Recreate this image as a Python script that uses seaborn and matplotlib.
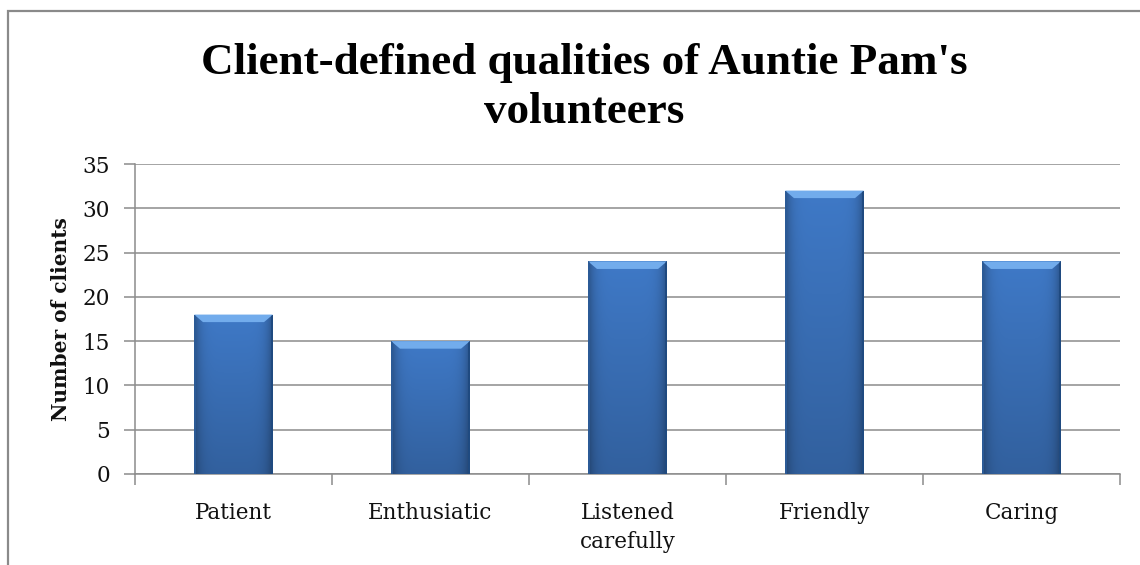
import numpy as np
import pandas as pd
import matplotlib
matplotlib.use("Agg")
import matplotlib.pyplot as plt
from matplotlib.patches import Rectangle, Polygon
import seaborn as sns

categories = ["Patient", "Enthusiatic", "Listened\ncarefully", "Friendly", "Caring"]
clients = [18, 15, 24, 32, 24]
y_ticks = [0, 5, 10, 15, 20, 25, 30, 35]

title = "Client-defined qualities of Auntie Pam's\nvolunteers"
y_label = "Number of clients"

sns.set_theme(style="white")
plt.rcParams["font.family"] = ["DejaVu Serif"]

GRID = "#8c8c8c"
BAR = "#3a70b8"
TEXT = "#111111"

fig = plt.figure(figsize=(11.4, 5.65), dpi=100)
ax = fig.add_axes([135 / 1140, 1 - 474 / 565, (1120 - 135) / 1140, (474 - 164) / 565])

df = pd.DataFrame({"quality": categories, "clients": clients})
sns.barplot(data=df, x="quality", y="clients", ax=ax, color=BAR,
            width=0.4, saturation=1, edgecolor="none", zorder=3)

ax.set_ylim(0, 35)
ax.set_xlim(-0.5, len(categories) - 0.5)
ax.set_yticks(y_ticks)
ax.set_yticklabels([str(v) for v in y_ticks])
ax.yaxis.grid(True, color=GRID, linewidth=1.1, zorder=0)
ax.xaxis.grid(False)
ax.set_axisbelow(True)

# tick marks on the category boundaries, labels centred under the bars
ax.set_xticks(np.arange(len(categories) + 1) - 0.5)
ax.set_xticklabels([""] * (len(categories) + 1))
ax.set_xticks(np.arange(len(categories)), minor=True)
ax.set_xticklabels(categories, minor=True, fontsize=15.5, color=TEXT, linespacing=1.45)
ax.tick_params(axis="x", which="minor", length=0, pad=20)
ax.tick_params(axis="x", which="major", length=8, width=1.1, color=GRID, direction="out", bottom=True)
ax.tick_params(axis="y", length=8, width=1.1, color=GRID, direction="out", left=True,
               labelsize=15.5, labelcolor=TEXT, pad=10)

for side in ["top", "right"]:
    ax.spines[side].set_visible(False)
for side in ["left", "bottom"]:
    ax.spines[side].set_color(GRID)
    ax.spines[side].set_linewidth(1.1)

ax.set_xlabel("")
ax.set_ylabel(y_label, fontsize=14.5, fontweight="bold", color=TEXT, labelpad=8)

# bevelled, shaded bar faces
gx = np.linspace(-1, 1, 64)
gy = np.linspace(0, 1, 64)[:, None]
shade = (1 - 0.30 * gx[None, :] ** 6) * (0.86 + 0.22 * gy)
base = np.array(matplotlib.colors.to_rgb(BAR))
img = np.clip(base[None, None, :] * shade[:, :, None], 0, 1)
for patch in ax.patches:
    x0, y0 = patch.get_x(), patch.get_y()
    w, h = patch.get_width(), patch.get_height()
    im = ax.imshow(img, extent=[x0, x0 + w, y0, y0 + h], aspect="auto", zorder=3.5,
                   interpolation="bilinear", origin="lower")
    im.set_clip_path(patch)
    bw, bh = 0.045, 0.85
    ax.add_patch(Polygon([[x0, y0 + h], [x0 + w, y0 + h], [x0 + w - bw, y0 + h - bh],
                          [x0 + bw, y0 + h - bh]], closed=True, facecolor="#72acec",
                         edgecolor="none", zorder=4))
    ax.add_patch(Polygon([[x0 + w, y0 + h], [x0 + w, y0], [x0 + w - 0.012, y0],
                          [x0 + w - 0.012, y0 + h - 0.2]], closed=True, facecolor="#1f4a80",
                         edgecolor="none", zorder=4))
    ax.add_patch(Polygon([[x0, y0 + h], [x0, y0], [x0 + 0.008, y0],
                          [x0 + 0.008, y0 + h - 0.2]], closed=True, facecolor="#2b5a96",
                         edgecolor="none", zorder=4))

fig.text(584 / 1140, 1 - 123 / 565, title, ha="center", va="baseline", fontsize=32.5,
         fontweight="bold", color="black", linespacing=1.3,
         family=["Liberation Serif", "DejaVu Serif"])

# chart frame
fig.add_artist(Rectangle((8 / 1140, -0.1), 1.2, 1.1 - 11 / 565, transform=fig.transFigure,
                         fill=False, edgecolor="#8a8a8a", linewidth=1.6))

fig.savefig("out.png", dpi=100)
